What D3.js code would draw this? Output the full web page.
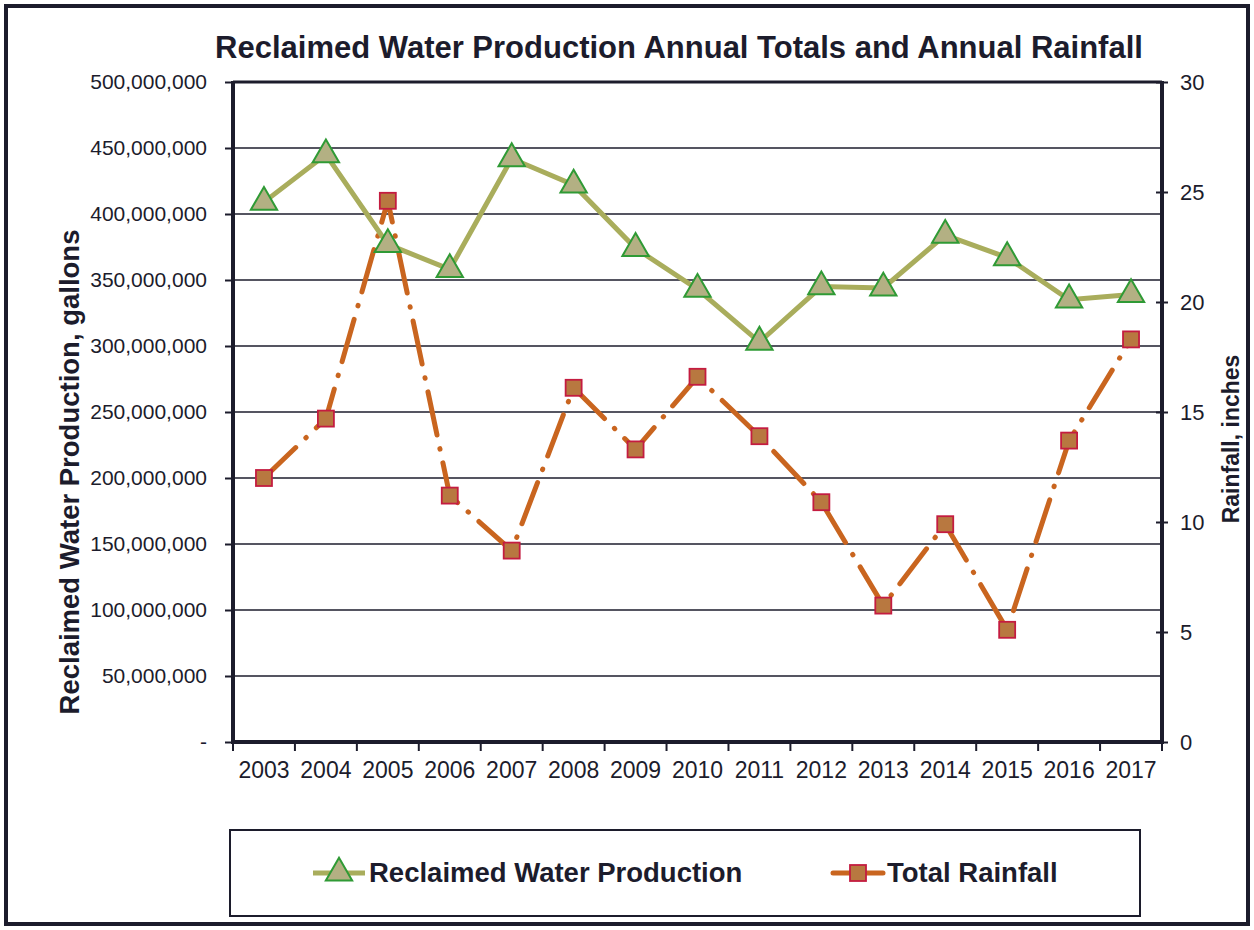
<!DOCTYPE html>
<html>
<head>
<meta charset="utf-8">
<script src="https://cdn.jsdelivr.net/npm/d3@7"></script>
<style>
  body { margin: 0; background: #fff; }
  svg { font-family: "Liberation Sans", Arial, sans-serif; }
</style>
</head>
<body>
<svg id="chart" width="1254" height="930"></svg>
<script>
// data
const years = ["2003","2004","2005","2006","2007","2008","2009","2010","2011","2012","2013","2014","2015","2016","2017"];
const reclaimed = [409e6, 445e6, 377e6, 358e6, 442e6, 422e6, 374e6, 343e6, 303e6, 345e6, 344e6, 384e6, 367e6, 335e6, 339e6];
const rainfall = [12.0, 14.7, 24.6, 11.2, 8.7, 16.1, 13.3, 16.6, 13.9, 10.9, 6.2, 9.9, 5.1, 13.7, 18.3];
const leftTicks = [0, 50e6, 100e6, 150e6, 200e6, 250e6, 300e6, 350e6, 400e6, 450e6, 500e6];
const rightTicks = [0, 5, 10, 15, 20, 25, 30];

const svg = d3.select("#chart");
const pLeft = 233, pRight = 1162, pTop = 82, pBottom = 742;
const ink = "#1c1c2c";
const ff = "Liberation Sans, Arial";

// outer frame
svg.append("rect").attr("x", 6).attr("y", 6).attr("width", 1242).attr("height", 918)
  .attr("fill", "none").attr("stroke", ink).attr("stroke-width", 4);

svg.append("text").attr("x", 679).attr("y", 58).attr("text-anchor", "middle")
  .attr("font-size", 31).attr("font-weight", "bold").attr("fill", ink)
  .text("Reclaimed Water Production Annual Totals and Annual Rainfall");

var x = d3.scaleBand().domain(years).range([pLeft, pRight]);
var yL = d3.scaleLinear().domain([0, 500e6]).range([pBottom, pTop]);
var yR = d3.scaleLinear().domain([0, 30]).range([pBottom, pTop]);

// gridlines
svg.append("g").selectAll("line").data(leftTicks.slice(1, -1)).enter().append("line")
  .attr("x1", pLeft).attr("x2", pRight)
  .attr("y1", d => yL(d)).attr("y2", d => yL(d))
  .attr("stroke", ink).attr("stroke-width", 1.6);

// left axis
const fmt = d3.format(",");
const gL = svg.append("g").attr("transform", "translate(" + pLeft + ",0)")
  .call(d3.axisLeft(yL).tickValues(leftTicks).tickSize(8).tickPadding(18)
    .tickFormat(d => d === 0 ? "-" : fmt(d)));
gL.selectAll("text").attr("font-size", 21).attr("fill", ink).attr("font-family", ff);

// right axis
const gR = svg.append("g").attr("transform", "translate(" + pRight + ",0)")
  .call(d3.axisRight(yR).tickValues(rightTicks).tickSize(6).tickPadding(12));
gR.selectAll("text").attr("font-size", 22).attr("fill", ink).attr("font-family", ff);
gR.selectAll(".tick line").attr("x1", -6);

// bottom axis
const gB = svg.append("g").attr("transform", "translate(0," + pBottom + ")")
  .call(d3.axisBottom(x).tickSize(0).tickPadding(20));
gB.selectAll("text").attr("font-size", 23).attr("fill", ink).attr("font-family", ff);
svg.append("g").selectAll("line").data(years.concat(["end"])).enter().append("line")
  .attr("x1", (d, i) => pLeft + i * x.step()).attr("x2", (d, i) => pLeft + i * x.step())
  .attr("y1", pBottom).attr("y2", pBottom + 9)
  .attr("stroke", ink).attr("stroke-width", 2);

[gL, gR, gB].forEach(g => {
  g.select(".domain").remove();
  g.selectAll(".tick line").attr("stroke", ink).attr("stroke-width", 2);
});

// plot frame
svg.append("line").attr("x1", pLeft).attr("x2", pRight).attr("y1", pTop).attr("y2", pTop)
  .attr("stroke", ink).attr("stroke-width", 3);
svg.append("line").attr("x1", pLeft).attr("x2", pLeft).attr("y1", pTop - 1).attr("y2", pBottom + 2)
  .attr("stroke", ink).attr("stroke-width", 4);
svg.append("line").attr("x1", pRight).attr("x2", pRight).attr("y1", pTop - 1).attr("y2", pBottom + 2)
  .attr("stroke", ink).attr("stroke-width", 4);
svg.append("line").attr("x1", pLeft).attr("x2", pRight).attr("y1", pBottom).attr("y2", pBottom)
  .attr("stroke", ink).attr("stroke-width", 4);

// axis titles
svg.append("text").attr("transform", "translate(79,472) rotate(-90)")
  .attr("text-anchor", "middle").attr("font-size", 27.5).attr("font-weight", "bold").attr("fill", ink)
  .text("Reclaimed Water Production, gallons");
svg.append("text").attr("transform", "translate(1239,439) rotate(-90)")
  .attr("text-anchor", "middle").attr("font-size", 23).attr("font-weight", "bold").attr("fill", ink)
  .text("Rainfall, inches");

const cx = d => x(d) + x.bandwidth() / 2;
const greenLine = "#a9ad5c", triFill = "#b3b083", triStroke = "#2f9a35";
const rainLine = "#c9651f", sqFill = "#b87840", sqStroke = "#c41c40";
const tri = d3.symbol().type(d3.symbolTriangle).size(300);

// rainfall line (dash-dot)
svg.append("path").datum(rainfall)
  .attr("d", d3.line().x((d, i) => cx(years[i])).y(d => yR(d)))
  .attr("fill", "none").attr("stroke", rainLine).attr("stroke-width", 5)
  .attr("stroke-linecap", "round").attr("stroke-dasharray", "44 14 0.5 14");

// reclaimed line
svg.append("path").datum(reclaimed)
  .attr("d", d3.line().x((d, i) => cx(years[i])).y(d => yL(d)))
  .attr("fill", "none").attr("stroke", greenLine).attr("stroke-width", 5);

svg.append("g").selectAll("rect").data(rainfall).enter().append("rect")
  .attr("x", (d, i) => cx(years[i]) - 8).attr("y", d => yR(d) - 8)
  .attr("width", 16).attr("height", 16)
  .attr("fill", sqFill).attr("stroke", sqStroke).attr("stroke-width", 1.8);

svg.append("g").selectAll("path").data(reclaimed).enter().append("path")
  .attr("d", tri)
  .attr("transform", (d, i) => "translate(" + cx(years[i]) + "," + yL(d) + ")")
  .attr("fill", triFill).attr("stroke", triStroke).attr("stroke-width", 2);

// legend
svg.append("rect").attr("x", 230).attr("y", 830).attr("width", 910).attr("height", 86)
  .attr("fill", "#fff").attr("stroke", ink).attr("stroke-width", 2);
const leg = svg.append("g");
leg.append("line").attr("x1", 313).attr("x2", 365).attr("y1", 873).attr("y2", 873)
  .attr("stroke", greenLine).attr("stroke-width", 5);
leg.append("path").attr("d", tri).attr("transform", "translate(339,873)")
  .attr("fill", triFill).attr("stroke", triStroke).attr("stroke-width", 2);
leg.append("text").attr("x", 369).attr("y", 882).attr("font-size", 27.5).attr("font-weight", "bold")
  .attr("fill", ink).text("Reclaimed Water Production");
leg.append("line").attr("x1", 833).attr("x2", 883).attr("y1", 873).attr("y2", 873)
  .attr("stroke", rainLine).attr("stroke-width", 5).attr("stroke-linecap", "round");
leg.append("rect").attr("x", 850).attr("y", 865).attr("width", 16).attr("height", 16)
  .attr("fill", sqFill).attr("stroke", sqStroke).attr("stroke-width", 1.8);
leg.append("text").attr("x", 887).attr("y", 882).attr("font-size", 27.5).attr("font-weight", "bold")
  .attr("fill", ink).text("Total Rainfall");
</script>
</body>
</html>
